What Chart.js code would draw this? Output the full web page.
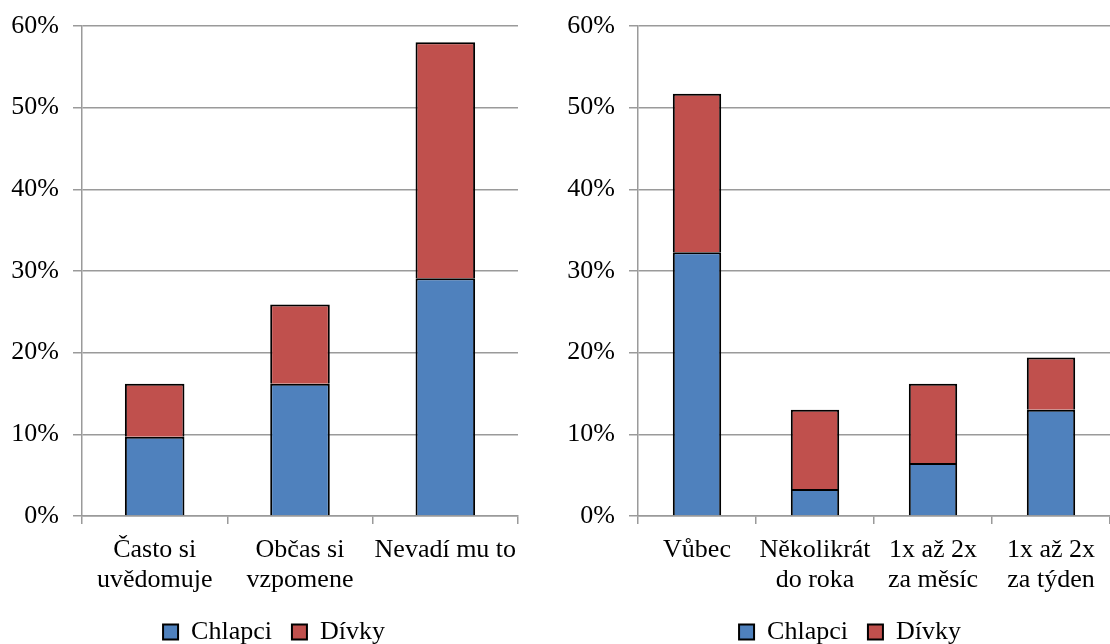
<!DOCTYPE html>
<html>
<head>
<meta charset="utf-8">
<script src="https://cdn.jsdelivr.net/npm/chart.js@4/dist/chart.umd.min.js"></script>
<style>
body { margin: 0; overflow: hidden; background: #fff; }
canvas { position: absolute; top: 0; }
</style>
</head>
<body>
<canvas id="left" width="548" height="655" style="left:0px"></canvas>
<canvas id="right" width="588" height="655" style="left:556px"></canvas>
<script>
var leftLabels = [['Často si', 'uvědomuje'], ['Občas si', 'vzpomene'], 'Nevadí mu to'];
var leftChlapci = [9.7, 16.2, 29.1];
var leftDivky = [6.5, 9.7, 28.9];

var rightLabels = ['Vůbec', ['Několikrát', 'do roka'], ['1x až 2x', 'za měsíc'], ['1x až 2x', 'za týden']];
var rightChlapci = [32.3, 3.3, 6.5, 13.0];
var rightDivky = [19.4, 9.7, 9.7, 6.4];

var yTicks = [0, 10, 20, 30, 40, 50, 60];

var font = 'Liberation Serif';
var gridColor = '#9a9a9a';

function stackedChart(canvasName, names, boys, girls, spaceRight)
{
	var ctx = document.getElementById(canvasName).getContext('2d');
	var myChart = new Chart(ctx, {
		type: 'bar',
		data: {
			labels: names,
			datasets: [{
				label: 'Chlapci',
				data: boys,
				backgroundColor: '#4F81BD',
				borderColor: '#000',
				borderWidth: 2,
				categoryPercentage: 1,
				barPercentage: 0.41
			}, {
				label: 'Dívky',
				data: girls,
				backgroundColor: '#C0504D',
				borderColor: '#000',
				borderWidth: 2,
				categoryPercentage: 1,
				barPercentage: 0.41
			}]
		},
		options: {
			responsive: false,
			animation: false,
			layout: { padding: { top: 26, right: 0, left: 0, bottom: 0 } },
			plugins: {
				tooltip: { enabled: false },
				legend: {
					position: 'bottom',
					labels: {
						color: '#000',
						font: { family: font, size: 26, lineHeight: 1 },
						boxWidth: 15,
						boxHeight: 15,
						padding: 20,
						useBorderRadius: false
					}
				}
			},
			scales: {
				x: {
					stacked: true,
					afterFit: function (scale) { scale.height = 83; },
					grid: { offset: true, drawOnChartArea: false, drawTicks: true, tickLength: 8, color: gridColor, lineWidth: 1.5 },
					border: { color: gridColor, width: 1.5 },
					ticks: { color: '#000', font: { family: font, size: 26, lineHeight: 1.15 }, padding: 11, maxRotation: 0, autoSkip: false }
				},
				y: {
					stacked: true,
					min: 0,
					max: 60,
					afterFit: function (scale) {
						scale.width = 82;
						scale.paddingTop = 0;
						scale.paddingBottom = 0;
					},
					afterBuildTicks: function (scale) { scale.ticks = yTicks.map(function (v) { return { value: v }; }); },
					grid: { color: gridColor, lineWidth: 1.5, tickLength: 9 },
					border: { color: gridColor, width: 1.5 },
					ticks: { color: '#000', font: { family: font, size: 26 }, padding: 14,
						callback: function (v) { return v + '%'; } }
				},
				// empty axis on the right, only keeps space so the legend sits like in the original
				spacer: {
					type: 'linear',
					position: 'right',
					afterFit: function (scale) {
						scale.width = spaceRight;
						scale.paddingTop = 0;
						scale.paddingBottom = 0;
					},
					grid: { display: false },
					border: { display: false },
					ticks: { display: false }
				}
			}
		}
	});
}

stackedChart('left', leftLabels, leftChlapci, leftDivky, 30);
stackedChart('right', rightLabels, rightChlapci, rightDivky, 34);
</script>
</body>
</html>
